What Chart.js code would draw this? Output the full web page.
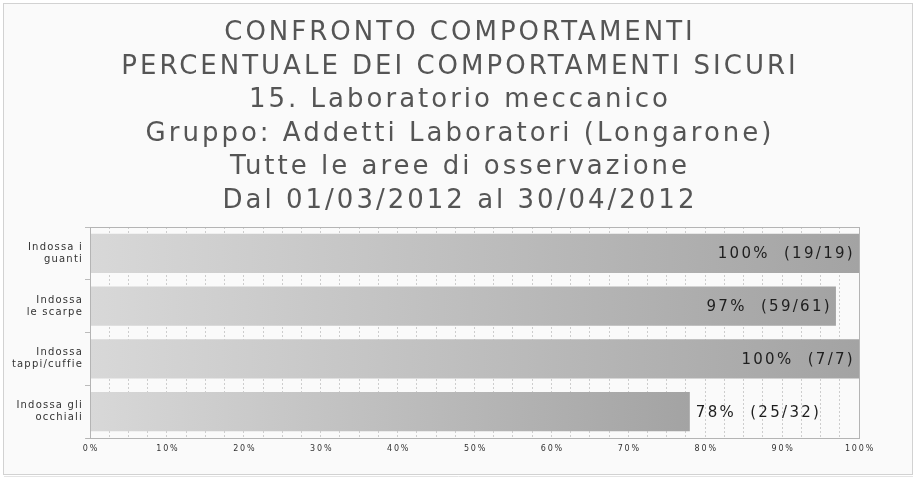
<!DOCTYPE html>
<html>
<head>
<meta charset="utf-8">
<script src="https://cdn.jsdelivr.net/npm/chart.js@4"></script>
<style>
  html, body { margin: 0; padding: 0; background: #ffffff; }
  #wrap { width: 915px; height: 477px; }
</style>
</head>
<body>
<div id="wrap"><canvas id="myChart" width="915" height="477"></canvas></div>
<script>
const titleLines = [
    'CONFRONTO COMPORTAMENTI',
    'PERCENTUALE DEI COMPORTAMENTI SICURI',
    '15. Laboratorio meccanico',
    'Gruppo: Addetti Laboratori (Longarone)',
    'Tutte le aree di osservazione',
    'Dal 01/03/2012 al 30/04/2012'
]
const categorie = [
    ['Indossa i', 'guanti'],
    ['Indossa', 'le scarpe'],
    ['Indossa', 'tappi/cuffie'],
    ['Indossa gli', 'occhiali']
]
const percentuali = [100, 97, 100, 78]
const conteggi = ['(19/19)', '(59/61)', '(7/7)', '(25/32)']
const tickPercentuali = [0, 10, 20, 30, 40, 50, 60, 70, 80, 90, 100]

// sfondo, cornice esterna e titolo
const cornice = {
    id: 'cornice',
    beforeDraw(chart) {
        const ctx = chart.ctx
        ctx.save()
        ctx.fillStyle = '#ffffff'
        ctx.fillRect(0, 0, chart.width, chart.height)
        ctx.fillStyle = '#fafafa'
        ctx.fillRect(3, 3, 910, 472)
        ctx.strokeStyle = '#d2d2d2'
        ctx.lineWidth = 1
        ctx.strokeRect(3.5, 3.5, 909, 471)
        ctx.strokeStyle = '#e4e4e4'
        ctx.beginPath()
        ctx.moveTo(4, 476.5)
        ctx.lineTo(913, 476.5)
        ctx.stroke()

        // titolo
        ctx.font = '26px "DejaVu Sans"'
        ctx.letterSpacing = '3px'
        ctx.fillStyle = '#555555'
        ctx.textAlign = 'center'
        ctx.textBaseline = 'alphabetic'
        titleLines.forEach((riga, i) => {
            ctx.fillText(riga, 460, 40 + i * 33.5)
        })
        ctx.restore()
    },
    afterDatasetsDraw(chart) {
        const ctx = chart.ctx
        const a = chart.chartArea
        ctx.save()
        ctx.strokeStyle = '#b4b4b4'
        ctx.lineWidth = 1
        ctx.strokeRect(a.left + 0.5, a.top + 0.5, a.right - a.left, a.bottom - a.top)
        ctx.beginPath()
        ctx.moveTo(a.left - 4, a.bottom + 0.5)
        ctx.lineTo(a.left, a.bottom + 0.5)
        ctx.stroke()
        ctx.restore()
    }
}

// etichette "100%  (19/19)" e testi degli assi
const etichette = {
    id: 'etichette',
    afterDraw(chart) {
        const ctx = chart.ctx
        const meta = chart.getDatasetMeta(0)
        ctx.save()
        ctx.font = '15px "DejaVu Sans"'
        ctx.letterSpacing = '2.3px'
        ctx.fillStyle = '#1e1e1e'
        ctx.textBaseline = 'middle'
        meta.data.forEach((bar, i) => {
            const testo = percentuali[i] + '%  ' + conteggi[i]
            if (percentuali[i] >= 90) {
                ctx.textAlign = 'right'
                ctx.fillText(testo, bar.x - 4, bar.y + 1)
            } else {
                ctx.textAlign = 'left'
                ctx.fillText(testo, bar.x + 6, bar.y + 1)
            }
        })

        // asse y
        const y = chart.scales.y
        ctx.font = '10px "DejaVu Sans"'
        ctx.letterSpacing = '1.2px'
        ctx.fillStyle = '#333333'
        ctx.textAlign = 'right'
        categorie.forEach((righe, i) => {
            const cy = y.getPixelForValue(i)
            righe.forEach((r, k) => {
                ctx.fillText(r, 83, cy + (k - (righe.length - 1) / 2) * 12)
            })
        })

        // asse x
        const x = chart.scales.x
        ctx.font = '8px "DejaVu Sans"'
        ctx.letterSpacing = '1.8px'
        ctx.textAlign = 'center'
        tickPercentuali.forEach(v => {
            ctx.fillText(v + '%', x.getPixelForValue(v) + 1, 448.5)
        })
        ctx.restore()
    }
}

new Chart('myChart', {
    type: 'bar',
    data: {
        labels: categorie,
        datasets: [{
            data: percentuali,
            backgroundColor: function (context) {
                const chart = context.chart
                if (!chart.chartArea) return '#c0c0c0'
                const x = chart.scales.x
                const x0 = x.getPixelForValue(0)
                const x1 = x.getPixelForValue(context.raw || 1)
                const g = chart.ctx.createLinearGradient(x0, 0, x1, 0)
                g.addColorStop(0, '#d8d8d8')
                g.addColorStop(1, '#a3a3a3')
                return g
            },
            borderWidth: 0,
            barPercentage: 0.745,
            categoryPercentage: 1
        }]
    },
    plugins: [cornice, etichette],
    options: {
        indexAxis: 'y',
        responsive: false,
        animation: false,
        layout: { padding: { left: 4, right: 56, top: 227, bottom: 0 } },
        plugins: {
            legend: { display: false },
            tooltip: { enabled: false },
            title: { display: false }
        },
        scales: {
            x: {
                min: 0,
                max: 100,
                afterFit(scale) { scale.height = 39 },
                afterBuildTicks(scale) {
                    const t = []
                    for (let v = 0; v <= 100; v += 2.5) t.push({ value: v })
                    scale.ticks = t
                },
                ticks: { display: false },
                grid: {
                    color: '#cdcdcd',
                    drawTicks: false
                },
                border: { display: false, dash: [2, 2] }
            },
            y: {
                afterFit(scale) { scale.width = 86 },
                ticks: { display: false },
                grid: {
                    offset: true,
                    drawOnChartArea: false,
                    tickColor: '#bbbbbb',
                    tickLength: 5
                },
                border: { display: false }
            }
        }
    }
})
</script>
</body>
</html>
